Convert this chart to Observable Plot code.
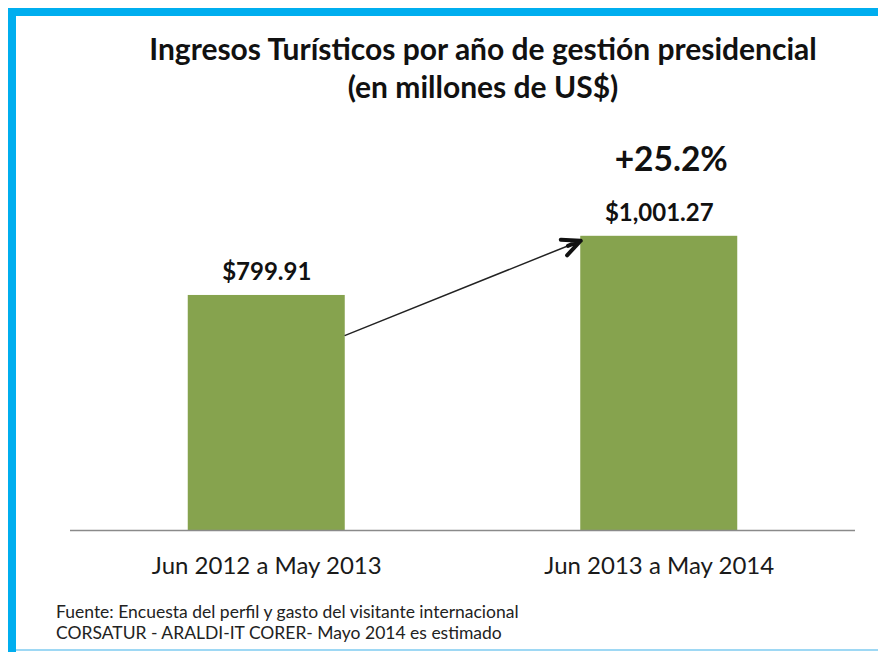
<!DOCTYPE html>
<html>
<head>
<meta charset="utf-8">
<script src="https://cdn.jsdelivr.net/npm/d3@7"></script>
<script src="https://cdn.jsdelivr.net/npm/@observablehq/plot@0.6"></script>
<style>
  html, body { margin: 0; padding: 0; background: #fff; }
  #wrap { position: relative; width: 878px; height: 652px; overflow: hidden; background: #fff; font-family: Lato, "Open Sans", sans-serif; }
  #borderTop { position: absolute; left: 8px; top: 8px; width: 870px; height: 8px; background: #00AEEF; }
  #borderLeft { position: absolute; left: 8px; top: 8px; width: 8px; height: 644px; background: #00AEEF; }
  #borderBottom { position: absolute; left: 16px; top: 649px; width: 862px; height: 2px; background: #9ED8F4; }
  #title { position: absolute; left: 0; width: 966px; top: 29px; text-align: center; font-weight: 700; font-size: 30px; line-height: 38px; color: #111; }
  #chart { position: absolute; left: 0; top: 130px; }
  #footer { position: absolute; left: 56px; top: 601px; font-size: 17.5px; line-height: 21px; color: #222; }
</style>
</head>
<body>
<div id="wrap">
  <div id="borderTop"></div>
  <div id="borderLeft"></div>
  <div id="borderBottom"></div>
  <div id="title"></div>
  <div id="chart"></div>
  <div id="footer"></div>
</div>
<script>
// ---- data ----
const titleLines = ["Ingresos Turísticos por año de gestión presidencial", "(en millones de US$)"];
const categories = ["Jun 2012 a May 2013", "Jun 2013 a May 2014"];
const values = [799.91, 1001.27];
const valueLabels = ["$799.91", "$1,001.27"];
const changeLabel = "+25.2%";
const footerLines = [
  "Fuente: Encuesta del perfil y gasto del visitante internacional",
  "CORSATUR - ARALDI-IT CORER- Mayo 2014 es estimado"
];

document.getElementById("title").innerHTML = titleLines.join("<br>");
document.getElementById("footer").innerHTML = footerLines.join("<br>");

const data = categories.map((c, i) => ({i, category: c, value: values[i], label: valueLabels[i]}));

const half = 0.2; // half bar width in index units
const arrowData = [{x1: 0 + half, y1: values[0] * 0.83, x2: 1 - half, y2: values[1] * 0.985}];

const chart = Plot.plot({
  width: 878,
  height: 470,
  marginLeft: 70,
  marginRight: 23,
  marginTop: 47.4,
  marginBottom: 70,
  style: {fontFamily: "Lato, 'Open Sans', sans-serif", color: "#111", background: "transparent"},
  x: {domain: [-0.5, 1.5], axis: null},
  y: {domain: [0, 1200], axis: null},
  marks: [
    Plot.rectY(data, {x1: d => d.i - half, x2: d => d.i + half, y: "value", fill: "#86A34E"}),
    Plot.ruleY([0], {stroke: "#8a8a8a", strokeWidth: 1.5}),
    Plot.axisX({ticks: [0, 1], tickFormat: i => categories[i], tickSize: 0, tickPadding: 26, fontSize: 24, fill: "#1a1a1a", label: null}),
    Plot.text(data, {x: "i", y: "value", text: "label", dy: -15, lineAnchor: "bottom", fontSize: 24, fontWeight: 700, fill: "#111"}),
    Plot.text([changeLabel], {x: 1, y: values[1], text: d => d, dx: 12, dy: -65, lineAnchor: "bottom", fontSize: 33.5, fontWeight: 700, fill: "#111"}),
    Plot.arrow(arrowData, {x1: "x1", y1: "y1", x2: "x2", y2: "y2", stroke: "#222", strokeWidth: 1.5, headLength: 0}),
    Plot.arrow(arrowData, {x1: "x1", y1: "y1", x2: "x2", y2: "y2", stroke: "#111", strokeWidth: 4, headLength: 7.5, headAngle: 50, insetStart: 240})
  ]
});
document.getElementById("chart").appendChild(chart);
</script>
</body>
</html>
